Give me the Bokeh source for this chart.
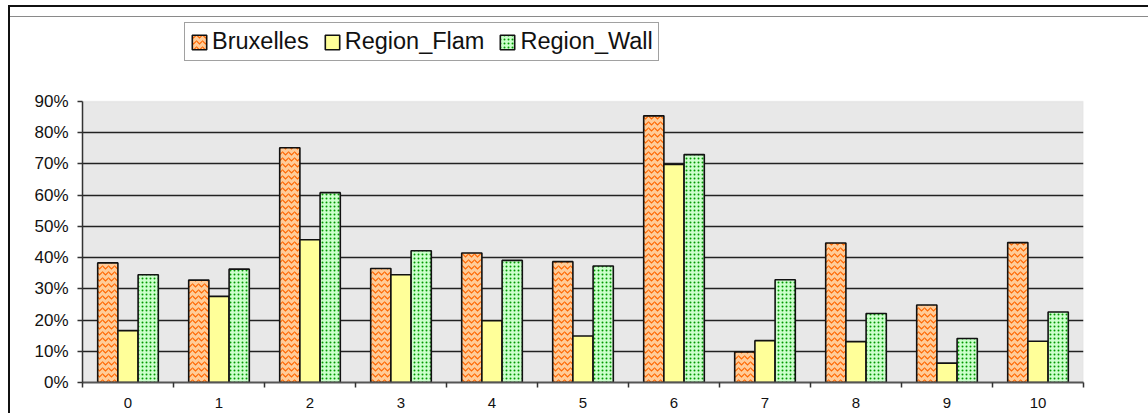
from bokeh.plotting import figure
from bokeh.models import (ColumnDataSource, Range1d, FixedTicker, BoxAnnotation,
                          NumeralTickFormatter, Legend, LegendItem)
from bokeh.transform import dodge
from bokeh.embed import file_html
from bokeh.resources import INLINE

# ---------------- data (percent) ----------------
categories = ["0", "1", "2", "3", "4", "5", "6", "7", "8", "9", "10"]
bruxelles = [38.3, 32.8, 75.2, 36.5, 41.5, 38.7, 85.4, 9.8, 44.7, 24.8, 44.8]
region_flam = [16.6, 27.6, 45.7, 34.5, 19.8, 14.9, 69.8, 13.4, 13.1, 6.2, 13.2]
region_wall = [34.5, 36.3, 60.8, 42.2, 39.1, 37.3, 73.0, 32.9, 22.1, 14.1, 22.6]
series_names = ["Bruxelles", "Region_Flam", "Region_Wall"]
y_ticks = [0.0, 0.1, 0.2, 0.3, 0.4, 0.5, 0.6, 0.7, 0.8, 0.9]

n = len(categories)
xs = list(range(n))
src = ColumnDataSource(dict(
    x=xs,
    bru=[v / 100 for v in bruxelles],
    fla=[v / 100 for v in region_flam],
    wal=[v / 100 for v in region_wall],
))

FONT = "Liberation Sans"

# layout (pixels): plot area 82..1083 x, 90% at y=101, 0% at y=382;
# the frame extends up to y=20 to hold the legend.
FRAME_TOP, AXIS_TOP, AXIS_BOTTOM = 20, 101, 382
y_max = y_ticks[-1] * (AXIS_BOTTOM - FRAME_TOP) / (AXIS_BOTTOM - AXIS_TOP)

p = figure(width=1148, height=413, output_backend="svg", toolbar_location=None,
           x_range=Range1d(-0.5, n - 0.5), y_range=Range1d(0, y_max),
           min_border_left=82, min_border_right=65, min_border_top=FRAME_TOP,
           min_border_bottom=413 - AXIS_BOTTOM)

# outer chart frame (left + top border, header line) drawn behind a transparent border area
p.border_fill_color = None
p.background_fill_color = None
p.outline_line_color = None
p.styles = {
    "background": (
        "linear-gradient(#111111,#111111) 8px 5px / 2px 100% no-repeat, "
        "linear-gradient(#111111,#111111) 8px 5px / 100% 2px no-repeat, "
        "linear-gradient(#8a8a8a,#8a8a8a) 10px 16px / 100% 1px no-repeat, "
        "#ffffff"
    ),
}

# gray plot area from 0% to 90%
plot_area = BoxAnnotation(bottom=0, top=y_ticks[-1], fill_color="#e8e8e8", fill_alpha=1.0,
                          line_color="#d4d4d4", line_width=1.5, level="image")
p.add_layout(plot_area)

bw = 0.222
r1 = p.vbar(x=dodge("x", -bw, range=p.x_range), top="bru", width=bw, source=src,
            fill_color="#ffcc99", line_color="#111111", line_width=1.6,
            hatch_pattern="horizontal_wave", hatch_color="#ff6600",
            hatch_scale=6, hatch_weight=1.2)
r2 = p.vbar(x="x", top="fla", width=bw, source=src,
            fill_color="#ffff99", line_color="#111111", line_width=1.6)
r3 = p.vbar(x=dodge("x", bw, range=p.x_range), top="wal", width=bw, source=src,
            fill_color="#ccffcc", line_color="#111111", line_width=1.6,
            hatch_pattern="dot", hatch_color="#009900",
            hatch_scale=4, hatch_weight=1)

# axes
xa = p.xaxis[0]
xa.ticker = FixedTicker(ticks=xs, minor_ticks=[i - 0.5 for i in range(n + 1)])
xa.major_label_overrides = {i: c for i, c in enumerate(categories)}
xa.major_tick_out = 0
xa.major_tick_in = 0
xa.minor_tick_out = 5
xa.minor_tick_in = 0
xa.minor_tick_line_color = "#333333"
xa.minor_tick_line_width = 1.5
xa.axis_line_color = "#555555"
xa.axis_line_width = 2
xa.major_label_text_font = FONT
xa.major_label_text_font_size = "15px"
xa.major_label_text_color = "#111111"
xa.major_label_standoff = 10

ya = p.yaxis[0]
ya.ticker = FixedTicker(ticks=y_ticks)
ya.bounds = (0, y_ticks[-1])
ya.formatter = NumeralTickFormatter(format="0%")
ya.major_tick_out = 5
ya.major_tick_in = 0
ya.minor_tick_line_color = None
ya.major_tick_line_color = "#333333"
ya.major_tick_line_width = 1.5
ya.axis_line_color = "#333333"
ya.axis_line_width = 1.5
ya.major_label_text_font = FONT
ya.major_label_text_font_size = "17px"
ya.major_label_text_color = "#111111"
ya.major_label_standoff = 9

p.xgrid.grid_line_color = None
p.ygrid.ticker = FixedTicker(ticks=y_ticks[1:-1])
p.ygrid.grid_line_color = "#222222"
p.ygrid.grid_line_width = 1.3

legend = Legend(items=[LegendItem(label=series_names[0], renderers=[r1]),
                       LegendItem(label=series_names[1], renderers=[r2]),
                       LegendItem(label=series_names[2], renderers=[r3])],
                orientation="horizontal", location=(102, AXIS_BOTTOM - 61))
legend.label_text_font = FONT
legend.label_text_font_size = "23.5px"
legend.label_text_color = "#111111"
legend.glyph_width = 18
legend.glyph_height = 18
legend.label_height = 22
legend.label_standoff = 4
legend.spacing = 14
legend.padding = 5
legend.margin = 0
legend.border_line_color = "#444444"
legend.border_line_width = 1.5
legend.background_fill_color = "#ffffff"
legend.background_fill_alpha = 1.0
p.add_layout(legend, "center")

open("out.html", "w").write(file_html(p, INLINE))
